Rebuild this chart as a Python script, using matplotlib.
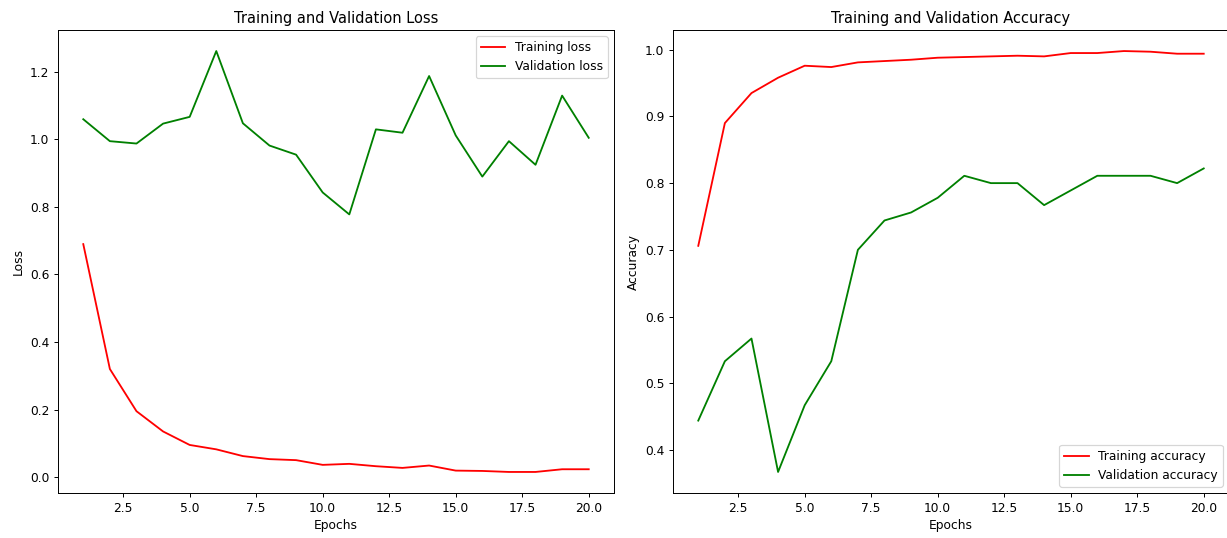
import matplotlib
matplotlib.use("Agg")
import matplotlib.pyplot as plt

# per-epoch history
epochs = list(range(1, 21))
train_loss = [0.69, 0.32, 0.195, 0.135, 0.095, 0.082, 0.062, 0.053, 0.050, 0.036,
              0.039, 0.032, 0.027, 0.034, 0.019, 0.018, 0.015, 0.015, 0.023, 0.023]
val_loss = [1.060, 0.995, 0.988, 1.047, 1.067, 1.262, 1.048, 0.982, 0.955, 0.843,
            0.778, 1.030, 1.020, 1.188, 1.012, 0.890, 0.995, 0.925, 1.130, 1.005]
train_acc = [0.706, 0.890, 0.935, 0.958, 0.976, 0.974, 0.981, 0.983, 0.985, 0.988,
             0.989, 0.990, 0.991, 0.990, 0.995, 0.995, 0.998, 0.997, 0.994, 0.994]
val_acc = [0.444, 0.533, 0.567, 0.367, 0.467, 0.533, 0.700, 0.744, 0.756, 0.778,
           0.811, 0.800, 0.800, 0.767, 0.789, 0.811, 0.811, 0.811, 0.800, 0.822]

W, H, DPI = 1227, 538, 88
fig = plt.figure(figsize=(W / DPI, H / DPI), dpi=DPI)

# axes placement in pixels (left, top, right, bottom)
ax1 = fig.add_axes([58 / W, 1 - 493 / H, 556 / W, 463 / H])
ax2 = fig.add_axes([673 / W, 1 - 493 / H, 556 / W, 463 / H])

ax1.plot(epochs, train_loss, 'r', label='Training loss')
ax1.plot(epochs, val_loss, 'g', label='Validation loss')
ax1.set_title('Training and Validation Loss')
ax1.set_xlabel('Epochs')
ax1.set_ylabel('Loss')
ax1.legend()

ax2.plot(epochs, train_acc, 'r', label='Training accuracy')
ax2.plot(epochs, val_acc, 'g', label='Validation accuracy')
ax2.set_title('Training and Validation Accuracy')
ax2.set_xlabel('Epochs')
ax2.set_ylabel('Accuracy')
ax2.legend(loc='lower right')

fig.savefig('out.png', dpi=DPI)
